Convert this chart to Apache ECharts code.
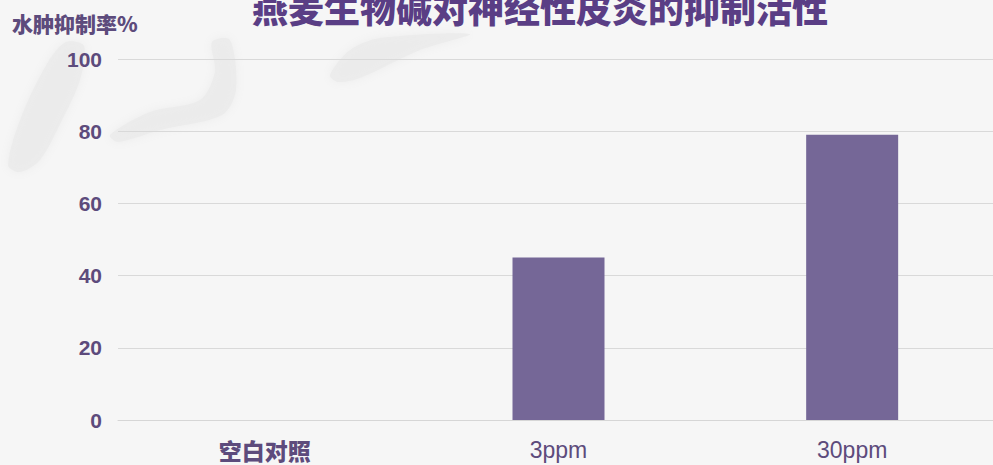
<!DOCTYPE html>
<html>
<head>
<meta charset="utf-8">
<script src="https://cdn.jsdelivr.net/npm/echarts@6/dist/echarts.min.js"></script>
<style>
  html, body { margin: 0; padding: 0; overflow: hidden; background: #f6f6f6; }
  #chart { width: 999px; height: 465px; }
</style>
</head>
<body>
<div id="chart"></div>
<script>
// Inhibition of oedema by oat alkaloids at each dose
const titleText = '燕麦生物碱对神经性皮炎的抑制活性';
const yName = '水肿抑制率%';
const categories = ['空白对照', '3ppm', '30ppm'];
const inhibition = [0, 45, 79];
const yTicks = [0, 20, 40, 60, 80, 100];

const purple = '#756797';
const textPurple = '#5d4b7c';
const cjk = '"Noto Sans CJK SC", "Liberation Sans", sans-serif';
const latin = '"Liberation Sans", Arial, sans-serif';

// faint grey brush strokes behind the plot
const softShape = (points) => ({
  type: 'polygon', silent: true, z: -10,
  shape: { points: points, smooth: 0.3 },
  style: { fill: '#ebebeb', opacity: 0.85, shadowBlur: 10, shadowColor: '#ebebeb' }
});

const chart = echarts.init(document.getElementById('chart'), null, { renderer: 'svg' });

chart.setOption({
  backgroundColor: '#f6f6f6',
  animation: false,
  title: {
    text: titleText,
    left: 535,
    textAlign: 'center',
    top: -16,
    textStyle: { fontFamily: cjk, fontWeight: 900, fontSize: 36, color: '#5a3e85' }
  },
  graphic: [
    softShape([[8, 165], [22, 115], [48, 62], [66, 42], [84, 46], [80, 80], [62, 120], [40, 160], [20, 172]]),
    softShape([[110, 135], [150, 112], [200, 100], [215, 72], [212, 42], [230, 40], [236, 90], [222, 115], [160, 130], [118, 142]]),
    softShape([[330, 75], [350, 50], [380, 38], [470, 34], [420, 50], [360, 78], [338, 82]]),
    {
      type: 'text', left: 12, top: 12,
      style: { text: yName, fontFamily: cjk, fontWeight: 900, fontSize: 21, fill: textPurple }
    }
  ],
  grid: { left: 118, right: 0, top: 59, bottom: 45 },
  xAxis: {
    type: 'category',
    data: categories,
    axisLine: { show: true, lineStyle: { color: '#d6d6d6', width: 1 } },
    axisTick: { show: false },
    axisLabel: {
      margin: 18,
      fontSize: 23,
      color: textPurple,
      formatter: v => /ppm/.test(v) ? '{l|' + v + '}' : '{c|' + v + '}',
      rich: {
        l: { fontFamily: latin, fontSize: 23, color: textPurple },
        c: { fontFamily: cjk, fontWeight: 900, fontSize: 23, color: textPurple }
      }
    }
  },
  yAxis: {
    type: 'value',
    min: yTicks[0],
    max: yTicks[yTicks.length - 1],
    interval: yTicks[1] - yTicks[0],
    axisLine: { show: false },
    axisTick: { show: false },
    splitLine: { lineStyle: { color: '#d9d9d9', width: 1 } },
    axisLabel: {
      margin: 16,
      fontFamily: latin,
      fontWeight: 'bold',
      fontSize: 21,
      color: textPurple
    }
  },
  series: [{
    type: 'bar',
    data: inhibition,
    barWidth: 92,
    itemStyle: { color: purple }
  }]
});
</script>
</body>
</html>
